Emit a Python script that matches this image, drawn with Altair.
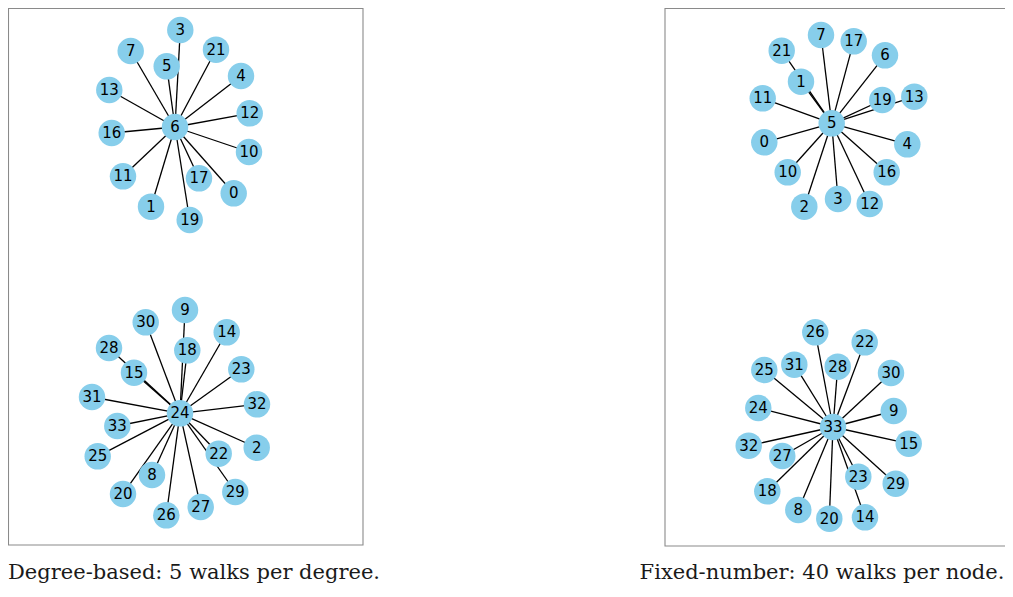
import altair as alt
import pandas as pd

# ---------------- data (layout coordinates) ----------------
# Left panel (degree-based), component with hub 6 (first entry is the hub)
a1_labels = ["6", "3", "7", "5", "21", "4", "13", "12", "16", "10", "11", "17", "0", "1", "19"]
a1_x = [175, 180.3, 130.7, 166.7, 216, 241, 109.3, 249.7, 111.7, 249, 123, 199, 233.7, 151, 189.7]
a1_y = [127, 30, 51, 66.3, 49.7, 76, 90, 113.3, 133, 152, 176.3, 178.3, 193.3, 206.7, 220]

# Left panel, component with hub 24
a2_labels = ["24", "9", "30", "14", "18", "28", "15", "23", "31", "32", "33", "2", "25", "22", "8", "29", "20", "27", "26"]
a2_x = [180, 185, 145.7, 226.7, 187.3, 109, 134, 241.3, 92, 257, 117.3, 256.7, 97.7, 218.7, 152, 235.3, 123, 200.7, 166.3]
a2_y = [413.3, 310, 322.3, 332.3, 350.3, 348, 372.7, 369.3, 397, 404.3, 426, 447.7, 456.3, 453.7, 475, 492, 494, 507, 515.3]

# Right panel (fixed-number), component with hub 5
b1_labels = ["5", "7", "17", "21", "6", "1", "11", "19", "13", "0", "4", "10", "16", "2", "3", "12"]
b1_x = [831.7, 821, 853.7, 781.7, 885, 801, 762.7, 882.3, 914.3, 764.3, 907.3, 787.7, 886.7, 804.3, 838, 869.7]
b1_y = [123.3, 35, 41.3, 50.7, 55.3, 81.7, 98.3, 100, 96.7, 142.3, 144.3, 172.3, 172.3, 206.7, 199, 204]

# Right panel, component with hub 33
b2_labels = ["33", "26", "22", "25", "31", "28", "30", "24", "9", "32", "15", "27", "23", "29", "18", "8", "20", "14"]
b2_x = [833, 815.3, 864.7, 764.3, 794.3, 837.7, 891, 758.3, 893.7, 748.7, 908.7, 782.3, 858.3, 895.7, 767.3, 798.3, 829.3, 865]
b2_y = [427, 332.3, 342.3, 370, 364.7, 366.7, 373, 408, 411, 445.7, 443.7, 456, 476.7, 483.7, 491.3, 510, 518.7, 517.3]

# Panel frames
panel_names = ["degree", "fixed"]
panel_x1 = [8.5, 665]
panel_x2 = [363, 1021]
panel_y1 = [8.5, 8.5]
panel_y2 = [545, 546]

# Captions
caption_text = ["Degree-based: 5 walks per degree.", "Fixed-number: 40 walks per node."]
caption_x = [194, 822]
caption_y = [579, 579]

# ---------------- tables ----------------
components = [
    ("degree", a1_labels, a1_x, a1_y),
    ("degree", a2_labels, a2_x, a2_y),
    ("fixed", b1_labels, b1_x, b1_y),
    ("fixed", b2_labels, b2_x, b2_y),
]
node_rows, edge_rows = [], []
for ci, (panel, labs, xs, ys) in enumerate(components):
    hx, hy = xs[0], ys[0]
    for lab, x, y in zip(labs, xs, ys):
        node_rows.append({"panel": panel, "comp": ci, "label": lab, "x": x, "y": y})
    for lab, x, y in zip(labs[1:], xs[1:], ys[1:]):
        edge_rows.append({"comp": ci, "x": hx, "y": hy, "x2": x, "y2": y})
nodes = pd.DataFrame(node_rows)
edges = pd.DataFrame(edge_rows)
frames = pd.DataFrame({"panel": panel_names, "x1": panel_x1, "x2": panel_x2,
                       "y1": panel_y1, "y2": panel_y2})
captions = pd.DataFrame({"text": caption_text, "x": caption_x, "y": caption_y})

W, H = 997, 578
xs = alt.Scale(domain=[8, 8 + W])
ys = alt.Scale(domain=[8, 8 + H], reverse=True)

frame_layer = alt.Chart(frames).mark_rect(fillOpacity=0, stroke="#8a8a8a", strokeWidth=1.1).encode(
    x=alt.X("x1:Q", scale=xs, axis=None),
    x2="x2:Q",
    y=alt.Y("y1:Q", scale=ys, axis=None),
    y2="y2:Q",
)

edge_layer = alt.Chart(edges).mark_rule(color="black", strokeWidth=1.3).encode(
    x=alt.X("x:Q", scale=xs, axis=None),
    y=alt.Y("y:Q", scale=ys, axis=None),
    x2="x2:Q",
    y2="y2:Q",
)

node_layer = alt.Chart(nodes).mark_circle(color="#87CEEB", opacity=1, size=700).encode(
    x=alt.X("x:Q", scale=xs, axis=None),
    y=alt.Y("y:Q", scale=ys, axis=None),
)

label_layer = alt.Chart(nodes).mark_text(font="DejaVu Sans", fontSize=15, color="black",
                                         align="center", baseline="middle").encode(
    x=alt.X("x:Q", scale=xs, axis=None),
    y=alt.Y("y:Q", scale=ys, axis=None),
    text="label:N",
)

caption_layer = alt.Chart(captions).mark_text(font="DejaVu Serif", fontSize=21, color="#1a1a1a",
                                              align="center", baseline="alphabetic").encode(
    x=alt.X("x:Q", scale=xs, axis=None),
    y=alt.Y("y:Q", scale=ys, axis=None),
    text="text:N",
)

chart = alt.layer(frame_layer, edge_layer, node_layer, label_layer, caption_layer).properties(
    width=W, height=H, autosize=alt.AutoSizeParams(type="none"), padding=0,
).configure_view(strokeWidth=0)

chart.save("out.html", embed_options={"renderer": "svg", "actions": False})
